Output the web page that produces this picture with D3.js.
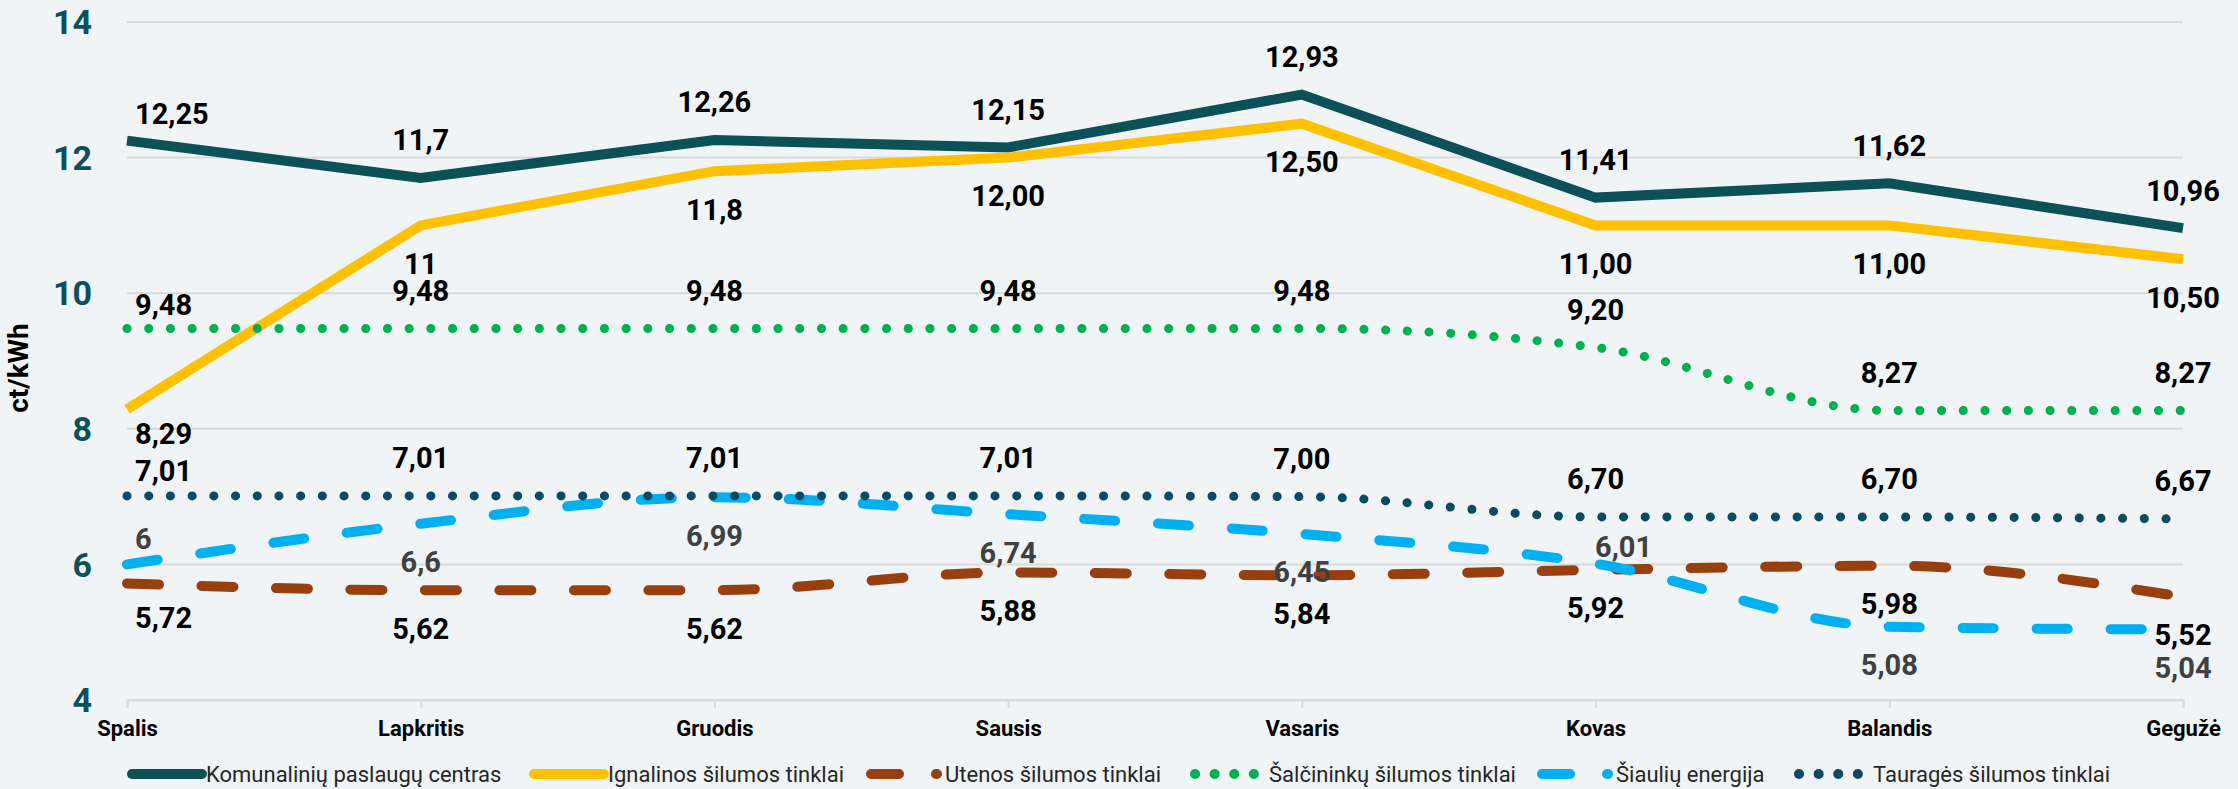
<!DOCTYPE html>
<html>
<head>
<meta charset="utf-8">
<script src="https://cdn.jsdelivr.net/npm/d3@7"></script>
<style>
  html, body { margin: 0; padding: 0; background: #f0f4f7; }
  svg { display: block; font-family: Roboto, "Liberation Sans", sans-serif; }
</style>
</head>
<body>
<svg id="chart" width="2238" height="789"></svg>
<script>

// months on the x axis
var months = ['Spalis', 'Lapkritis', 'Gruodis', 'Sausis', 'Vasaris', 'Kovas', 'Balandis', 'Gegužė'];

var seriesNames = ['Komunalinių paslaugų centras', 'Ignalinos šilumos tinklai', 'Utenos šilumos tinklai',
	'Šalčininkų šilumos tinklai', 'Šiaulių energija', 'Tauragės šilumos tinklai'];

// values, ct/kWh
var komunaliniu = [12.25, 11.7, 12.26, 12.15, 12.93, 11.41, 11.62, 10.96];
var ignalinos   = [8.29, 11, 11.8, 12.00, 12.50, 11.00, 11.00, 10.50];
var utenos      = [5.72, 5.62, 5.62, 5.88, 5.84, 5.92, 5.98, 5.52];
var salcininku  = [9.48, 9.48, 9.48, 9.48, 9.48, 9.20, 8.27, 8.27];
var siauliu     = [6, 6.6, 6.99, 6.74, 6.45, 6.01, 5.08, 5.04];
var taurages    = [7.01, 7.01, 7.01, 7.01, 7.00, 6.70, 6.70, 6.67];

// labels as they are printed on the chart
var komunaliniuLabels = ['12,25', '11,7', '12,26', '12,15', '12,93', '11,41', '11,62', '10,96'];
var ignalinosLabels   = ['8,29', '11', '11,8', '12,00', '12,50', '11,00', '11,00', '10,50'];
var utenosLabels      = ['5,72', '5,62', '5,62', '5,88', '5,84', '5,92', '5,98', '5,52'];
var salcininkuLabels  = ['9,48', '9,48', '9,48', '9,48', '9,48', '9,20', '8,27', '8,27'];
var siauliuLabels     = ['6', '6,6', '6,99', '6,74', '6,45', '6,01', '5,08', '5,04'];
var tauragesLabels    = ['7,01', '7,01', '7,01', '7,01', '7,00', '6,70', '6,70', '6,67'];

var yTicks = [4, 6, 8, 10, 12, 14];
var yTitle = 'ct/kWh';


var svg = d3.select('#chart');

var x = d3.scalePoint().domain(months).range([127, 2183]);
var y = d3.scaleLinear().domain([4, 14]).range([700, 22]);

// line styles, one per series
var styles = [
	{ color: '#0b5157', width: 10, dash: null, legendDash: null, smooth: false, side: -1, first: -27, labelColor: '#000' },
	{ color: '#ffc000', width: 10, dash: null, legendDash: null, smooth: false, side: 1, first: 24, labelColor: '#000' },
	{ color: '#983f10', width: 10, dash: '32,42.5', legendDash: '28,37', smooth: true, side: 1, first: 34, labelColor: '#000' },
	{ color: '#00b050', width: 9, dash: '0.1,21.6', legendDash: '0.1,19.5', smooth: true, side: -1, first: -24, labelColor: '#000' },
	{ color: '#00b0f0', width: 10, dash: '31,43', legendDash: '28,37', smooth: true, side: 1, first: -26, labelColor: '#404040' },
	{ color: '#0b4a63', width: 9, dash: '0.1,21.6', legendDash: '0.1,19.5', smooth: true, side: -1, first: -25, labelColor: '#000' }
];

var allValues = [komunaliniu, ignalinos, utenos, salcininku, siauliu, taurages];
var allLabels = [komunaliniuLabels, ignalinosLabels, utenosLabels, salcininkuLabels, siauliuLabels, tauragesLabels];

// gridlines
svg.append('g')
	.selectAll('line')
	.data(yTicks)
	.enter()
	.append('line')
	.attr('x1', x.range()[0])
	.attr('x2', x.range()[1])
	.attr('y1', function(d) { return y(d); })
	.attr('y2', function(d) { return y(d); })
	.attr('stroke', '#d9d9d9')
	.attr('stroke-width', 2);

// x axis
var xAxis = svg.append('g')
	.attr('transform', 'translate(0,' + y(4) + ')')
	.call(d3.axisBottom(x).tickSize(8).tickPadding(12));
xAxis.select('.domain').attr('stroke', '#d9d9d9').attr('stroke-width', 2);
xAxis.selectAll('.tick line').attr('stroke', '#d9d9d9').attr('stroke-width', 2);
xAxis.selectAll('.tick text')
	.attr('font-size', 22)
	.attr('font-weight', 'bold')
	.attr('fill', '#000')
	.attr('font-family', 'Roboto, sans-serif');

// y axis labels
svg.append('g')
	.selectAll('text')
	.data(yTicks)
	.enter()
	.append('text')
	.attr('x', 92)
	.attr('y', function(d) { return y(d); })
	.attr('dy', '0.36em')
	.attr('text-anchor', 'end')
	.attr('font-size', 34)
	.attr('font-weight', 'bold')
	.attr('fill', '#0b5157')
	.text(function(d) { return d; });

svg.append('text')
	.attr('transform', 'translate(28,368) rotate(-90)')
	.attr('text-anchor', 'middle')
	.attr('font-size', 28)
	.attr('font-weight', 'bold')
	.attr('fill', '#000')
	.text(yTitle);

// lines
for (var s = 0; s < allValues.length; s++) {
	var st = styles[s];
	var line = d3.line()
		.x(function(d, i) { return x(months[i]); })
		.y(function(d) { return y(d); })
		.curve(st.smooth ? d3.curveMonotoneX : d3.curveLinear);

	svg.append('path')
		.datum(allValues[s])
		.attr('d', line)
		.attr('fill', 'none')
		.attr('stroke', st.color)
		.attr('stroke-width', st.width)
		.attr('stroke-linecap', st.dash ? 'round' : 'butt')
		.attr('stroke-linejoin', 'miter')
		.attr('stroke-dasharray', st.dash);
}

// data labels
for (var s = 0; s < allValues.length; s++) {
	var st = styles[s];
	svg.append('g')
		.selectAll('text')
		.data(allValues[s])
		.enter()
		.append('text')
		.attr('x', function(d, i) {
			if (i == 0) return x(months[i]) + 8;
			if (s == 4 && i == 5) return x(months[i]) + 28;
			return x(months[i]);
		})
		.attr('y', function(d, i) {
			if (i == 0) return y(d) + st.first;
			if (s == 4 && i == 5) return y(d) - 17;
			return y(d) + st.side * 38;
		})
		.attr('dy', '0.36em')
		.attr('text-anchor', function(d, i) { return i == 0 ? 'start' : 'middle'; })
		.attr('font-size', 29)
		.attr('font-weight', 'bold')
		.attr('fill', st.labelColor)
		.text(function(d, i) { return allLabels[s][i]; });
}

// legend, item start positions as in the original layout
var legendX = [132, 534, 871, 1195, 1542, 1799];
var legend = svg.append('g').attr('transform', 'translate(0,774)');
for (var s = 0; s < seriesNames.length; s++) {
	var st = styles[s];
	var lx = legendX[s];
	legend.append('line')
		.attr('x1', lx)
		.attr('x2', st.legendDash && st.legendDash.indexOf('28') == 0 ? lx + 66 : lx + 70)
		.attr('y1', 0)
		.attr('y2', 0)
		.attr('stroke', st.color)
		.attr('stroke-width', 10)
		.attr('stroke-linecap', 'round')
		.attr('stroke-dasharray', st.legendDash);
	legend.append('text')
		.attr('x', lx + 74)
		.attr('y', 0)
		.attr('dy', '0.36em')
		.attr('font-size', 22)
		.attr('fill', '#262626')
		.text(seriesNames[s]);
}

</script>
</body>
</html>
